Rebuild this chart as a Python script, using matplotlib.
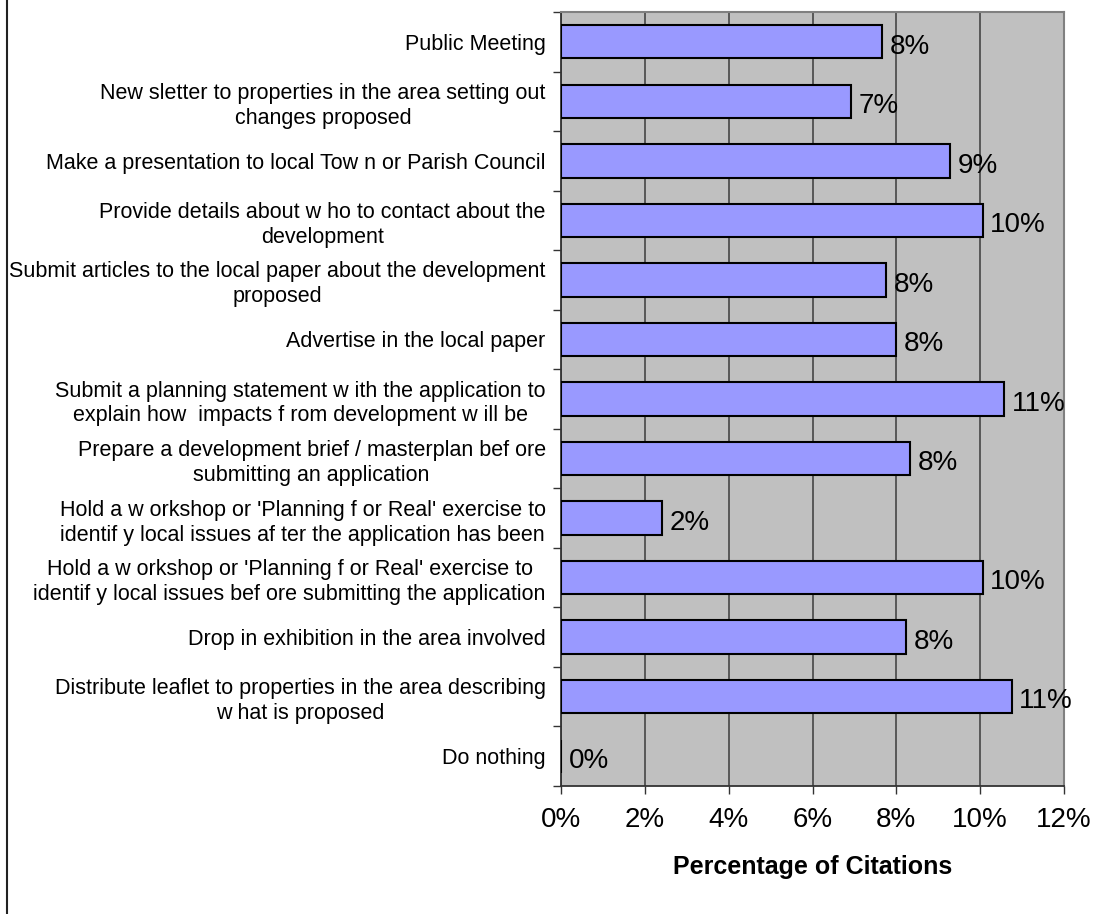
import matplotlib
matplotlib.use("Agg")
import matplotlib.pyplot as plt
from matplotlib.lines import Line2D
from matplotlib.ticker import PercentFormatter, MultipleLocator

# Categories as shown, top to bottom (gaps kept as rendered in the original)
categories = [
    "Public Meeting",
    "New sletter to properties in the area setting out\nchanges proposed",
    "Make a presentation to local Tow n or Parish Council",
    "Provide details about w ho to contact about the\ndevelopment",
    "Submit articles to the local paper about the development\nproposed",
    "Advertise in the local paper",
    "Submit a planning statement w ith the application to\nexplain how  impacts f rom development w ill be",
    "Prepare a development brief / masterplan bef ore\nsubmitting an application",
    "Hold a w orkshop or 'Planning f or Real' exercise to\nidentif y local issues af ter the application has been",
    "Hold a w orkshop or 'Planning f or Real' exercise to\nidentif y local issues bef ore submitting the application",
    "Drop in exhibition in the area involved",
    "Distribute leaflet to properties in the area describing\nw hat is proposed",
    "Do nothing",
]
# Percentage of citations
citations = [7.66, 6.91, 9.29, 10.06, 7.76, 7.99, 10.57, 8.33, 2.4, 10.06, 8.24, 10.75, 0.0]

x_ticks = [0, 2, 4, 6, 8, 10, 12]

plt.rcParams["font.family"] = ["Liberation Sans", "DejaVu Sans"]

fig = plt.figure(figsize=(10.93, 9.14), dpi=100)
ax = fig.add_axes([561 / 1093, 1 - 786 / 914, (1064 - 561) / 1093, (786 - 12) / 914])

ax.set_facecolor("#C0C0C0")
pos = list(range(len(categories)))
ax.barh(pos, citations, height=0.56, color="#9999FF", edgecolor="black", linewidth=1.5, zorder=3)

# value labels
for p, v in zip(pos, citations):
    ax.text(v + 0.18, p + 0.08, f"{round(v)}%", va="center", ha="left", fontsize=20, zorder=4)

ax.set_xlim(0, 12)
ax.set_ylim(len(categories) - 0.5, -0.5)
ax.set_xticks(x_ticks)
ax.xaxis.set_major_formatter(PercentFormatter(decimals=0))
ax.grid(axis="x", color="#505050", linewidth=1.3, zorder=1)

ax.set_yticks(pos)
ax.set_yticklabels(categories, fontsize=15.5, linespacing=1.25)
for lab in ax.get_yticklabels():
    lab.set_multialignment("center")
ax.yaxis.set_minor_locator(MultipleLocator(1, offset=0.5))
ax.tick_params(axis="y", which="major", length=0, pad=11)
ax.tick_params(axis="y", which="minor", length=6, width=1, color="#333333")
ax.tick_params(axis="x", length=6, width=1, color="#333333", labelsize=20, pad=9)

for side in ["top", "right"]:
    ax.spines[side].set_color("#808080")
    ax.spines[side].set_linewidth(1.5)
for side in ["left", "bottom"]:
    ax.spines[side].set_color("#333333")
    ax.spines[side].set_linewidth(1.3)

ax.set_xlabel("Percentage of Citations", fontsize=18, fontweight="bold", labelpad=16)

# left edge of the chart frame
fig.add_artist(Line2D([7 / 1093, 7 / 1093], [0, 1], color="#222222", linewidth=1.5))

fig.savefig("out.png", dpi=100)
